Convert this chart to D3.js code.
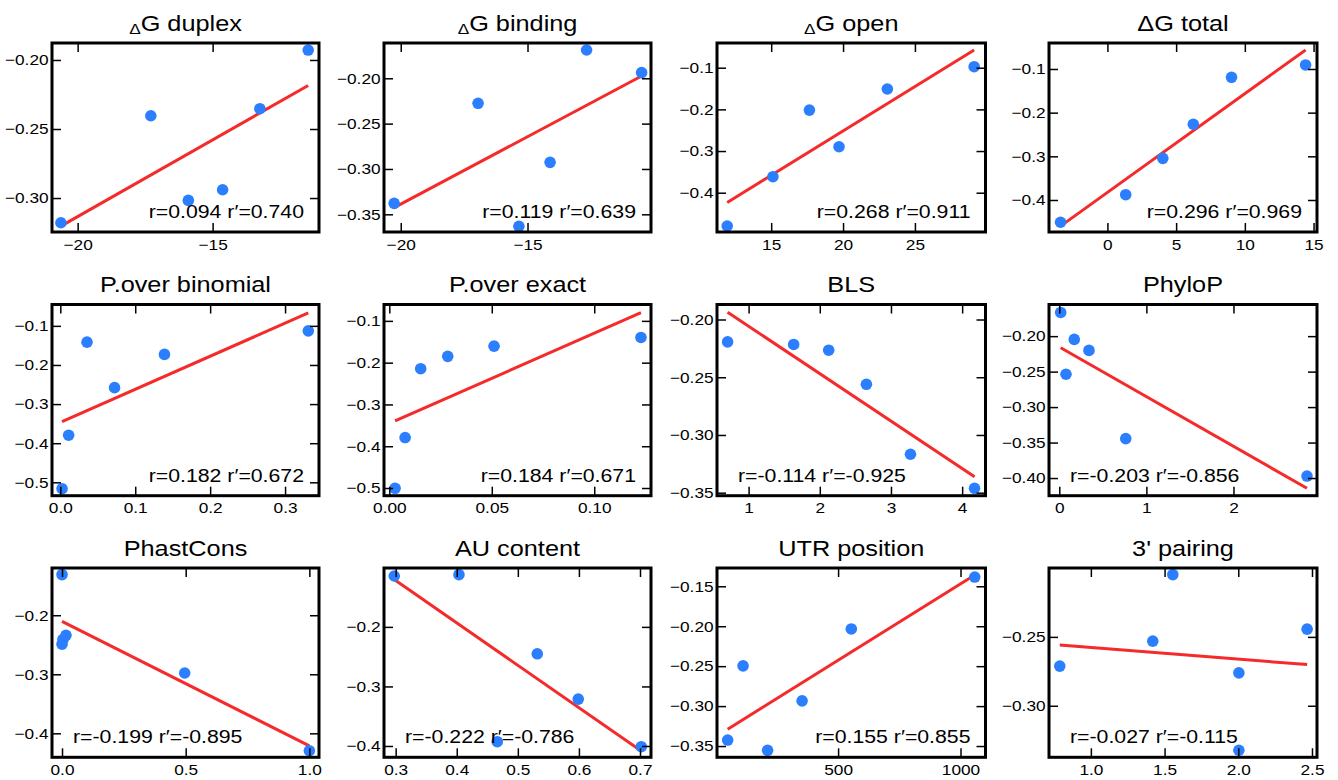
<!DOCTYPE html>
<html>
<head>
<meta charset="utf-8">
<script src="https://cdn.jsdelivr.net/npm/d3@7"></script>
<style>
  body { margin: 0; background: #fff; }
  text { font-family: "Liberation Sans", Arial, sans-serif; fill: #000; }
</style>
</head>
<body>
<script>
// panel titles, left to right, top to bottom
const titles = ["ΔG duplex", "ΔG binding", "ΔG open", "ΔG total",
                "P.over binomial", "P.over exact", "BLS", "PhyloP",
                "PhastCons", "AU content", "UTR position", "3' pairing"];

// x values of the points in each panel
const xValues = [
  [-20.62, -17.29, -15.90, -14.63, -13.25, -11.46],
  [-20.26, -16.95, -15.34, -14.11, -12.67, -10.50],
  [11.94, 15.12, 17.66, 19.72, 23.08, 29.12],
  [-3.41, 1.33, 4.03, 6.25, 9.03, 14.42],
  [0.0023, 0.0111, 0.0356, 0.0724, 0.139, 0.331],
  [0.0028, 0.0077, 0.0153, 0.0285, 0.0511, 0.1228],
  [0.705, 1.633, 2.125, 2.655, 3.274, 4.174],
  [0.016, 0.077, 0.172, 0.341, 0.763, 2.844],
  [0.0, 0.0, 0.004, 0.016, 0.496, 1.0],
  [0.2977, 0.4036, 0.4663, 0.5318, 0.5989, 0.7021],
  [49, 112, 212, 353, 554, 1058],
  [0.789, 1.420, 1.556, 2.004, 2.004, 2.467]
];

// y values of the points in each panel
const yValues = [
  [-0.3179, -0.2404, -0.3017, -0.2940, -0.2353, -0.1928],
  [-0.3379, -0.2276, -0.3632, -0.2927, -0.1688, -0.1938],
  [-0.4799, -0.3616, -0.2017, -0.2897, -0.1511, -0.0976],
  [-0.4510, -0.3879, -0.3046, -0.2266, -0.1190, -0.0908],
  [-0.5163, -0.3796, -0.1416, -0.2580, -0.1730, -0.1128],
  [-0.5007, -0.3792, -0.2144, -0.1849, -0.1605, -0.1397],
  [-0.2194, -0.2216, -0.2266, -0.2561, -0.3167, -0.3462],
  [-0.1666, -0.2537, -0.2046, -0.2201, -0.3444, -0.3972],
  [-0.1312, -0.2490, -0.2410, -0.2340, -0.2978, -0.4294],
  [-0.1145, -0.1123, -0.3928, -0.2452, -0.3213, -0.4012],
  [-0.3425, -0.2496, -0.3554, -0.2934, -0.2034, -0.1384],
  [-0.2712, -0.2531, -0.2048, -0.2761, -0.3323, -0.2444]
];

// correlation labels
const rLabels = ["r=0.094 r′=0.740", "r=0.119 r′=0.639", "r=0.268 r′=0.911", "r=0.296 r′=0.969",
                 "r=0.182 r′=0.672", "r=0.184 r′=0.671", "r=-0.114 r′=-0.925", "r=-0.203 r′=-0.856",
                 "r=-0.199 r′=-0.895", "r=-0.222 r′=-0.786", "r=0.155 r′=0.855", "r=-0.027 r′=-0.115"];

// axis ranges
const xDomains = [[-20.95, -11.06], [-20.66, -10.13], [11.23, 29.91], [-4.25, 15.25],
                  [-0.0111, 0.3453], [-0.0026, 0.1277], [0.556, 4.328], [-0.118, 2.959],
                  [-0.0405, 1.039], [0.2809, 0.718], [5.5, 1102], [0.716, 2.534]];
const yDomains = [[-0.3246, -0.1877], [-0.3695, -0.1611], [-0.4943, -0.0407], [-0.4733, -0.0405],
                  [-0.5342, -0.0454], [-0.5184, -0.0608], [-0.3526, -0.187], [-0.4249, -0.1554],
                  [-0.4406, -0.12], [-0.419, -0.1011], [-0.3641, -0.1271], [-0.3374, -0.20]];

// tick labels
const xTicks = [[-20, -15], [-20, -15], [15, 20, 25], [0, 5, 10, 15],
                [0, 0.1, 0.2, 0.3], [0, 0.05, 0.1], [1, 2, 3, 4], [0, 1, 2],
                [0, 0.5, 1], [0.3, 0.4, 0.5, 0.6, 0.7], [500, 1000], [1, 1.5, 2, 2.5]];
const yTicks = [[-0.30, -0.25, -0.20], [-0.35, -0.30, -0.25, -0.20], [-0.4, -0.3, -0.2, -0.1], [-0.4, -0.3, -0.2, -0.1],
                [-0.5, -0.4, -0.3, -0.2, -0.1], [-0.5, -0.4, -0.3, -0.2, -0.1], [-0.35, -0.30, -0.25, -0.20],
                [-0.40, -0.35, -0.30, -0.25, -0.20], [-0.4, -0.3, -0.2], [-0.4, -0.3, -0.2],
                [-0.35, -0.30, -0.25, -0.20, -0.15], [-0.30, -0.25]];
const xFormats = ["d", "d", "d", "d", ".1f", ".2f", "d", "d", ".1f", ".1f", "d", ".1f"];
const yFormats = [".2f", ".2f", ".1f", ".1f", ".1f", ".1f", ".2f", ".2f", ".1f", ".1f", ".2f", ".2f"];

// layout of the 4x3 grid
const colLeft = [52, 384, 717, 1049];
const colRight = [319, 651, 985.5, 1317];
const rowTop = [43, 304.5, 568];
const rowBottom = [232, 495.7, 757.3];

const stretch = 'scale(1.15,1)'; // the picture's text is a bit wide
const blue = '#2b7fff';
const red = '#f52a2a';

const svg = d3.select('body').append('svg')
  .attr('width', 1338)
  .attr('height', 780);

titles.forEach((title, i) => {
  const col = i % 4, row = Math.floor(i / 4);
  const L = colLeft[col], R = colRight[col], T = rowTop[row], B = rowBottom[row];

  const x = d3.scaleLinear().domain(xDomains[i]).range([L, R]);
  const y = d3.scaleLinear().domain(yDomains[i]).range([B, T]);

  const g = svg.append('g');

  // least squares line over the data range
  const xs = xValues[i], ys = yValues[i];
  const mx = d3.mean(xs), my = d3.mean(ys);
  const sxy = d3.sum(xs, (v, k) => (v - mx) * (ys[k] - my));
  const sxx = d3.sum(xs, v => (v - mx) * (v - mx));
  const slope = sxy / sxx;
  const x0 = d3.min(xs), x1 = d3.max(xs);
  g.append('line')
    .attr('x1', x(x0)).attr('y1', y(my + slope * (x0 - mx)))
    .attr('x2', x(x1)).attr('y2', y(my + slope * (x1 - mx)))
    .attr('stroke', red)
    .attr('stroke-width', 3);

  g.selectAll('circle')
    .data(xs.map((v, k) => [v, ys[k]]))
    .join('circle')
    .attr('cx', d => x(d[0]))
    .attr('cy', d => y(d[1]))
    .attr('r', 5.8)
    .attr('fill', blue);

  // inward ticks on all four sides
  const tick = (axis, tx, ty, labels, pad) => {
    const a = g.append('g')
      .attr('transform', `translate(${tx},${ty})`)
      .call(axis.tickSizeInner(-9).tickSizeOuter(0).tickPadding(pad))
      .attr('font-family', null)
      .attr('font-size', 15);
    a.select('.domain').remove();
    a.selectAll('.tick line').attr('stroke', '#000').attr('stroke-width', 1.5);
    if (labels) a.selectAll('text').attr('transform', stretch);
    else a.selectAll('text').remove();
  };
  tick(d3.axisBottom(x).tickValues(xTicks[i]).tickFormat(d3.format(xFormats[i])), 0, B, true, 7);
  tick(d3.axisTop(x).tickValues(xTicks[i]), 0, T, false, 3);
  tick(d3.axisLeft(y).tickValues(yTicks[i]).tickFormat(d3.format(yFormats[i])), L, 0, true, 3);
  tick(d3.axisRight(y).tickValues(yTicks[i]), R, 0, false, 3);

  g.append('rect')
    .attr('x', L).attr('y', T)
    .attr('width', R - L).attr('height', B - T)
    .attr('fill', 'none')
    .attr('stroke', '#000')
    .attr('stroke-width', 3);

  // title
  const t = g.append('text')
    .attr('transform', `translate(${(L + R) / 2},${T - 12.5}) ${stretch}`)
    .attr('text-anchor', 'middle')
    .attr('font-size', 22);
  if (i < 3) {
    t.append('tspan').attr('font-size', 15).attr('dy', 3).text(title[0]);
    t.append('tspan').attr('dy', -3).text(title.slice(1));
  } else {
    t.text(title);
  }

  // r label: bottom right for rising fits, bottom left for falling ones
  const right = slope > 0;
  g.append('text')
    .attr('transform', `translate(${right ? R - 15 : L + 21},${B - 14}) ${stretch}`)
    .attr('text-anchor', right ? 'end' : 'start')
    .attr('font-size', 18.5)
    .text(rLabels[i]);
});
</script>
</body>
</html>
